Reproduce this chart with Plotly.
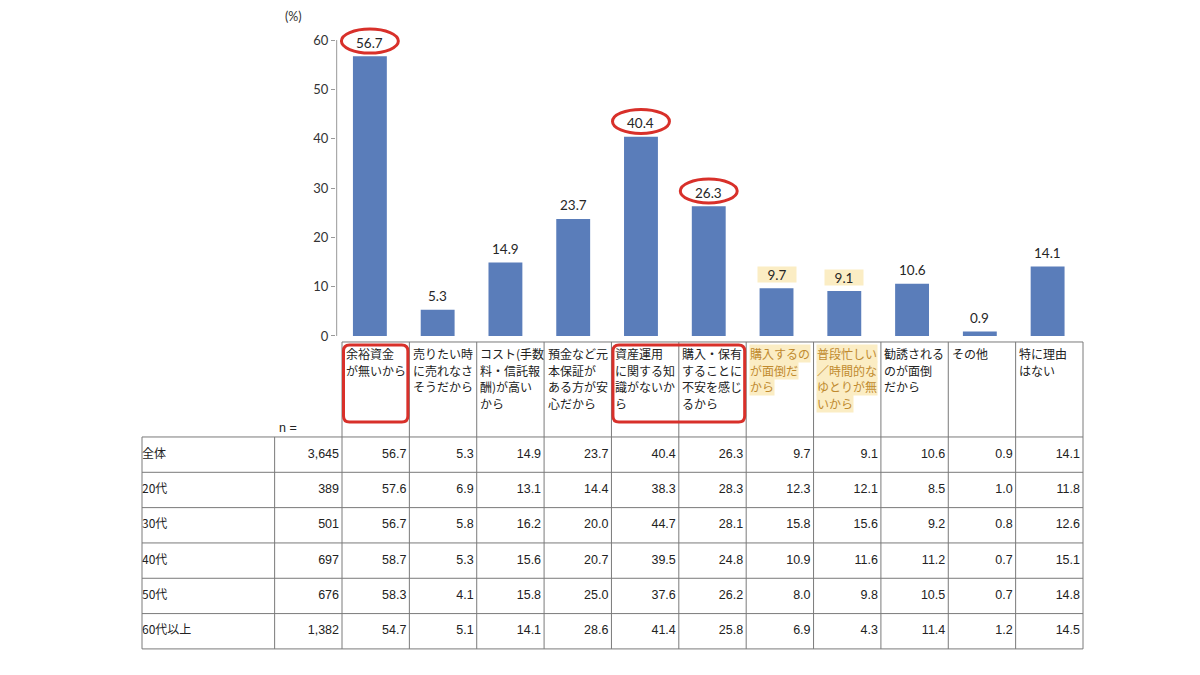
import plotly.graph_objects as go

OX, OY = 8, 8  # default page margin of the html body
S = 683 / 675  # page height vs. photographed height
W, H = 1200 - 2 * OX, 683 - 2 * OY

# ---- data ----
categories = [
    "余裕資金が無いから", "売りたい時に売れなさそうだから", "コスト(手数料・信託報酬)が高いから",
    "預金など元本保証がある方が安心だから", "資産運用に関する知識がないから",
    "購入・保有することに不安を感じるから", "購入するのが面倒だから",
    "普段忙しい／時間的なゆとりが無いから", "勧誘されるのが面倒だから", "その他", "特に理由はない",
]
header_lines = [
    ["余裕資金", "が無いから"],
    ["売りたい時", "に売れなさ", "そうだから"],
    ["コスト(手数", "料・信託報", "酬)が高い", "から"],
    ["預金など元", "本保証が", "ある方が安", "心だから"],
    ["資産運用", "に関する知", "識がないか", "ら"],
    ["購入・保有", "することに", "不安を感じ", "るから"],
    ["購入するの", "が面倒だ", "から"],
    ["普段忙しい", "／時間的な", "ゆとりが無", "いから"],
    ["勧誘される", "のが面倒", "だから"],
    ["その他"],
    ["特に理由", "はない"],
]
row_labels = ["全体", "20代", "30代", "40代", "50代", "60代以上"]
n_values = ["3,645", "389", "501", "697", "676", "1,382"]
overall = [56.7, 5.3, 14.9, 23.7, 40.4, 26.3, 9.7, 9.1, 10.6, 0.9, 14.1]
age_20s = [57.6, 6.9, 13.1, 14.4, 38.3, 28.3, 12.3, 12.1, 8.5, 1.0, 11.8]
age_30s = [56.7, 5.8, 16.2, 20.0, 44.7, 28.1, 15.8, 15.6, 9.2, 0.8, 12.6]
age_40s = [58.7, 5.3, 15.6, 20.7, 39.5, 24.8, 10.9, 11.6, 11.2, 0.7, 15.1]
age_50s = [58.3, 4.1, 15.8, 25.0, 37.6, 26.2, 8.0, 9.8, 10.5, 0.7, 14.8]
age_60s = [54.7, 5.1, 14.1, 28.6, 41.4, 25.8, 6.9, 4.3, 11.4, 1.2, 14.5]
table_values = [overall, age_20s, age_30s, age_40s, age_50s, age_60s]
y_ticks = [0, 10, 20, 30, 40, 50, 60]

# emphasis (which columns get marked)
circled = [0, 4, 5]
boxed_groups = [(0, 0), (4, 5)]
highlighted = [6, 7]

BAR = "#5a7dba"
RED = "#d8302a"
HL_BG = "#fbedc4"
HL_FG = "#c08a2e"
GRID = "#7a7a7a"
JP = "Noto Sans CJK JP"
NUM = "Liberation Sans"


def px(x):
    return (x - OX) / W


def py(y):
    return 1 - (y * S - OY) / H


# ---- geometry (pixels of the 1200x675 picture) ----
col_w = (1083 - 342) / 11
row_h = (649 - 437) / 6
px_unit = 296 / 60
pad = 4
tbl_left = -0.5 - (342 - 142) / col_w
hdr_top = -(437 - 342) / row_h
n_rows = len(row_labels)
n_cols = len(categories)

fig = go.Figure()

fig.add_trace(go.Bar(
    x=list(range(n_cols)), y=overall, width=0.5,
    marker=dict(color=BAR, line=dict(width=0)),
    hoverinfo="skip", showlegend=False,
))

# table body text
xs, ys, ts = [], [], []
for r, vals in enumerate(table_values):
    for c, v in enumerate(vals):
        xs.append(c + 0.5 - 3 / col_w)
        ys.append(r + 0.5)
        ts.append(f"{v:.1f}")
    xs.append(-0.5 - 3 / col_w)
    ys.append(r + 0.5)
    ts.append(n_values[r])
fig.add_trace(go.Scatter(
    x=xs, y=ys, text=ts, mode="text", textposition="middle left",
    textfont=dict(family=NUM, size=12.5, color="#222"),
    xaxis="x2", yaxis="y2", hoverinfo="skip", showlegend=False,
))
fig.add_trace(go.Scatter(
    x=[tbl_left] * n_rows, y=[r + 0.5 for r in range(n_rows)], text=row_labels,
    mode="text", textposition="middle right",
    textfont=dict(family=JP, size=12, color="#222"),
    xaxis="x2", yaxis="y2", hoverinfo="skip", showlegend=False,
))

shapes = []
annotations = []

# y axis line
shapes.append(dict(type="line", xref="x", yref="y", x0=-0.49, x1=-0.49, y0=0, y1=60,
                   line=dict(color="#999", width=1)))

# data labels
for i, v in enumerate(overall):
    a = dict(xref="x", yref="y", x=i, y=v, yshift=13.5 * S, yanchor="middle",
             text=f"{v:.1f}", showarrow=False,
             font=dict(family="Lato", size=13.5, color="#262626"))
    if i in highlighted:
        a.update(bgcolor=HL_BG, width=36, height=13)
    annotations.append(a)

# red ellipses
for i in circled:
    cy = overall[i] + 15.3 / px_unit
    hh = 12 / px_unit
    shapes.append(dict(type="circle", xref="x", yref="y",
                       x0=i - 0.42, x1=i + 0.42, y0=cy - hh, y1=cy + hh,
                       line=dict(color=RED, width=3)))

# table grid
ln = dict(color=GRID, width=1)
for r in range(n_rows + 1):
    shapes.append(dict(type="line", xref="x2", yref="y2", x0=tbl_left, x1=n_cols - 0.5,
                       y0=r, y1=r, line=ln))
shapes.append(dict(type="line", xref="x2", yref="y2", x0=-0.5, x1=n_cols - 0.5,
                   y0=hdr_top, y1=hdr_top, line=ln))
for x in (tbl_left, -1.5):
    shapes.append(dict(type="line", xref="x2", yref="y2", x0=x, x1=x, y0=0, y1=n_rows, line=ln))
for c in range(n_cols + 1):
    x = c - 0.5
    shapes.append(dict(type="line", xref="x2", yref="y2", x0=x, x1=x, y0=hdr_top, y1=n_rows, line=ln))

# header text
for c, lines in enumerate(header_lines):
    for k, t in enumerate(lines):
        a = dict(xref="x2", yref="y2", x=c - 0.5 + 2.5 / col_w,
                 y=hdr_top + (2.5 + k * 16.5) / row_h,
                 xanchor="left", yanchor="top", text=t, showarrow=False, borderpad=0,
                 font=dict(family=JP, size=12, color="#222"))
        if c in highlighted:
            a.update(bgcolor=HL_BG, font=dict(family=JP, size=12, color=HL_FG))
        annotations.append(a)

# red rounded boxes around header cells
rx, ry = 6 / col_w, 6 / row_h
for c0, c1 in boxed_groups:
    x0, x1 = c0 - 0.5 + 1.5 / col_w, c1 + 0.5 - 1.5 / col_w
    y0, y1 = hdr_top + 3 / row_h, -15 / row_h
    path = (f"M {x0 + rx},{y0} L {x1 - rx},{y0} Q {x1},{y0} {x1},{y0 + ry} "
            f"L {x1},{y1 - ry} Q {x1},{y1} {x1 - rx},{y1} "
            f"L {x0 + rx},{y1} Q {x0},{y1} {x0},{y1 - ry} "
            f"L {x0},{y0 + ry} Q {x0},{y0} {x0 + rx},{y0} Z")
    shapes.append(dict(type="path", xref="x2", yref="y2", path=path,
                       line=dict(color=RED, width=3)))

annotations.append(dict(xref="x2", yref="y2", x=-1.5 + 2 / col_w, y=-9 / row_h,
                        xanchor="left", yanchor="middle", text="n =", showarrow=False,
                        font=dict(family=NUM, size=12.5, color="#222")))
annotations.append(dict(xref="paper", yref="paper", x=px(293), y=py(16),
                        xanchor="center", yanchor="middle", text="(%)", showarrow=False,
                        font=dict(family="Lato", size=12.5, color="#333")))

fig.update_layout(
    width=W, height=H, margin=dict(l=0, r=0, t=0, b=0),
    paper_bgcolor="white", plot_bgcolor="rgba(0,0,0,0)",
    xaxis=dict(domain=[px(336), px(1081.5)], range=[-0.5, n_cols - 0.5],
               showticklabels=False, showgrid=False, zeroline=False, showline=False,
               ticks="", fixedrange=True),
    yaxis=dict(domain=[py(336), py(336 - 63 * px_unit)], range=[0, 63],
               tickvals=y_ticks, ticks="outside", ticklen=4, tickcolor="#999",
               tickfont=dict(family="Lato", size=13, color="#333"),
               showgrid=False, zeroline=False, showline=False, fixedrange=True),
    xaxis2=dict(domain=[px(142 - pad), px(1083 + pad)],
                range=[tbl_left - pad / col_w, n_cols - 0.5 + pad / col_w],
                visible=False, anchor="y2", fixedrange=True),
    yaxis2=dict(domain=[py(649 + pad), py(342 - pad)],
                range=[n_rows + pad / row_h, hdr_top - pad / row_h],
                visible=False, anchor="x2", fixedrange=True),
    shapes=shapes, annotations=annotations,
)

fig.write_html("out.html")
